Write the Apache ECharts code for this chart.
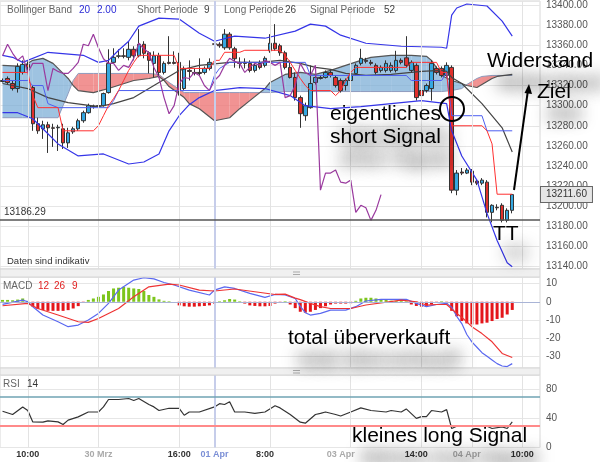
<!DOCTYPE html>
<html>
<head>
<meta charset="utf-8">
<script src="https://cdn.jsdelivr.net/npm/echarts@6/dist/echarts.min.js"></script>
<style>
html,body{margin:0;padding:0;background:#fff;}
#chart{width:600px;height:462px;}
</style>
</head>
<body>
<div id="chart"></div>
<script>
// ================= DATA =================
const slotCount = 107;
const slots = Array.from({length: slotCount}, (_, i) => String(i));

const opens = [13325,13327,13322,13317,13333,13341,13318,13282,13277,13281,
 13278,13278,13277,13263,13274,13277,13285,13293,13299,13300,
 13300,13313,13343,13349,13349.5,13348,13356,13349.5,13361,13352.5,
 13342,13349.5,13333,13343,13343,13343,13317,13335,13333,13333,
 13333,13337,13361.4,13361,13357.5,13371,13356.5,13343,13343,13342,
 13335,13342,13340,13354.5,13362,13359.5,13352.5,13338,13328,13308,
 13290,13298,13323,13328,13328,13333,13328,13325,13320,13325,
 13332,13342,13345,13343,13340,13335,13335,13335,13335,13345,
 13347.5,13335,13340,13315,13315,13317,13337,13337,13330,13338,
 13216,13234,13233,13235,13225,13223,13224,13194,13199,13201,
 13186,13196];
const closes = [13324,13323,13317,13339,13341,13338,13282,13275,13281,13278,
 13277.5,13278.5,13263,13273,13277,13285,13293,13300,13299.5,13299.5,
 13312,13342,13348,13349.5,13349,13356,13349.5,13361,13352,13345,
 13349.5,13333,13342,13342,13342,13315,13337,13334,13332,13332,
 13337,13343,13361,13359.5,13371,13357.5,13346.6,13342,13342,13335,
 13340,13338,13347,13362,13356.5,13352.5,13338,13328,13308,13292,
 13300,13322,13328,13327,13333,13330,13320,13315,13325,13330,
 13340,13347,13344,13342,13333,13338,13342,13340,13345,13343,
 13340,13343,13308,13310,13320,13342,13333,13330,13340,13216,
 13233,13233,13236,13224,13223,13226,13194,13201,13198.5,13186,
 13196,13211.6];
const lows = [13323,13321,13315,13313,13331,13335,13275,13272,13267,13253,
 13259,13255,13257,13258,13272,13275,13283,13292,13297,13297,
 13299,13312,13342,13347,13347,13345,13345,13348,13347,13332,
 13328,13328,13331,13341,13341,13310,13315,13325,13330,13330,
 13331,13335,13359.5,13357.5,13355.5,13355.5,13337.7,13337,13337,13333,
 13333,13336,13338,13352.5,13354.5,13349.5,13336,13327,13305,13278,
 13285,13297,13321,13326,13327,13328,13318,13313,13315,13323,
 13330,13340,13342,13340,13331,13333,13333,13333,13333,13341,
 13338,13333,13305,13305,13313,13305,13331,13328,13328,13213,
 13211,13231,13232,13221,13221,13221,13189,13184,13196,13184,
 13184,13193];
const highs = [13327,13329,13325,13342,13345,13344,13320,13288,13285,13284,
 13282,13281,13282,13278,13279,13287,13295,13302,13301,13303,
 13313,13356,13357,13356,13357,13364,13359,13376,13364,13354,
 13354,13352.5,13344,13369,13354,13352.5,13339,13345,13337,13347,
 13339,13347,13363,13363,13376,13373,13358.5,13348,13347,13345,
 13343,13345,13349,13371,13381,13361.5,13354.5,13345,13333,13310,
 13303,13340,13330,13330,13335,13335,13330,13327,13327,13332,
 13342,13356.5,13347.5,13345.5,13342,13340,13345,13343,13354.5,13347,
 13369,13345,13342,13317,13322,13345,13339,13339,13343,13340,
 13236,13238,13238,13237,13227,13228,13226,13202,13202,13203,
 13198,13212];

// overlay lines: [slot, value]
const upperBand = [[0,13350],[2,13348],[4,13343],[9,13353],[16,13350],[19,13343],[21,13345],[23,13355],[25,13364],[27,13379],[31,13387],[35,13386],[39,13372],[42,13364],[46,13369],[52,13367],[58,13374],[61,13381],[64,13379],[67,13370],[72,13362],[79,13359],[87,13358],[88,13357],[89,13390],[90,13397],[92,13401],[96,13399],[99,13384],[101,13369]];
const lowerBand = [[0,13293],[3,13293],[6,13287],[8,13277],[11,13262],[15,13250],[20,13252],[25,13242],[28,13244],[31,13252],[33,13275],[35,13290],[37,13301],[39,13308],[42,13315],[47,13318],[52,13317],[57,13310],[60,13300],[65,13297],[71,13299],[77,13302],[83,13305],[88,13302],[89,13275],[91,13250],[94,13226],[96,13193],[98,13166],[100,13144],[101,13140]];
const middleBand = [[0,13322],[5,13317],[9,13308],[13,13303],[19,13299],[22,13302],[26,13308],[29,13317],[32,13326],[35,13335],[39,13340],[45,13343],[51,13343],[55,13345],[59,13342],[62,13338],[65,13336],[68,13332],[72,13330],[77,13331],[83,13334],[87,13335],[88,13334],[89,13328],[91,13322],[95,13302],[99,13278],[101,13254]];
const tenkan = [[0,13333],[5,13333],[6,13310],[7,13298],[11,13298],[12,13275],[18,13275],[19,13280],[20,13290],[21,13300],[22,13307],[23,13315],[24,13325],[25,13335],[26,13343],[27,13350],[34,13350],[35,13337],[41,13337],[42,13345],[43,13345],[44,13353],[47,13353],[48,13355],[55,13355],[56,13350],[57,13343],[58,13335],[59,13327],[60,13320],[61,13315],[65,13315],[66,13310],[67,13315],[68,13325],[69,13333],[70,13338],[80,13338],[81,13343],[86,13343],[87,13333],[88,13333],[89,13280],[95,13280],[96,13275],[97,13262],[98,13212],[101,13212]];
const kijun = [[0,13325],[5,13325],[6,13320],[8,13320],[9,13302],[11,13298],[21,13298],[22,13305],[23,13315],[41,13315],[42,13330],[43,13337],[45,13343],[60,13343],[61,13330],[80,13330],[81,13325],[87,13325],[88,13333],[89,13290],[95,13290],[96,13275],[101,13275]];
const cloudK = [0,4,6,8,10,11,12,13,14,15,18,21,26,29,31,32,33,36,37,39,42,45,47,49,52,53,56,59,62,65,71,73,77,81,84,85,87,89,91,92,94,95,97,98,101];
const spanA = [13340,13339,13345,13347,13342,13337,13332,13327,13320,13315,13313,13317,13325,13327,13329,13325,13319,13308,13302,13297,13285,13288,13297,13305,13317,13323,13331,13333,13331,13335,13345,13348,13350,13350,13349,13345,13330,13325,13322,13320,13318,13321,13327,13329,13331];
const spanB = [13288,13288,13288,13288,13288,13288,13300,13312,13325,13332,13332,13332,13332,13332,13331,13327,13323,13313,13313,13313,13313,13313,13313,13313,13313,13313,13314,13314,13314,13314,13314,13314,13314,13314,13314,13314,13314,13315,13317,13321,13327,13329,13330,13330,13330];
const chikouShift = 26;

const macdLine = [[0,-1.4],[4,0.9],[5,0],[6,-2.7],[8,-7.3],[11,-11],[13,-13.7],[15,-12.8],[17,-10],[19,-6.4],[21,-0.9],[23,6.4],[26,11.9],[28,13.2],[30,12.6],[32,10.6],[34,9.2],[37,6.4],[41,3.7],[42,6.4],[44,8.2],[46,7.3],[49,4.6],[52,2.4],[54,4],[56,3.7],[58,1.8],[59,-2.5],[60,-6],[61,-7.3],[63,-6.4],[65,-4.6],[68,-4.6],[70,-2.7],[72,0.4],[75,1.3],[80,1.3],[82,-0.9],[84,-2.7],[86,-1.5],[88,-0.9],[89,-3],[90,-8],[91,-12],[92,-18],[93,-22],[94,-25],[95,-28],[96,-30],[97,-32],[98,-34],[99,-35.3],[100,-35.6],[101,-34]];
const signalLine = [[0,-2.2],[5,-0.9],[7,-3.7],[11,-7.3],[15,-11],[17,-11.3],[19,-9.2],[23,-3.7],[26,2.7],[29,8.2],[33,9.7],[35,9.2],[39,6.4],[42,5.9],[46,7],[50,5.5],[54,4],[56,4.2],[58,2],[59,1.2],[61,-0.9],[63,-2.7],[65,-3.7],[69,-3.7],[72,-1.8],[79,0.9],[82,0],[84,-1.8],[86,-1.5],[88,-1.5],[90,-6.4],[91,-8.5],[93,-13.7],[95,-17.5],[97,-22],[99,-28.4],[101,-30.6]];
const macdHist = [1,1,0.8,1.2,1.8,0.5,-2.7,-4,-4.6,-5,
 -5,-5,-5,-4.6,-3.7,-2.4,-0.5,1,1.8,2.7,
 4,5.9,7.3,7.7,8.2,7.7,7.3,7,5.9,3.7,
 2.7,1.3,0.5,0.3,0,-2,-2.5,-2.7,-2.7,-2.5,
 -2.3,-2,-1,0.3,0.8,1.5,1.2,0.3,-1,-2,
 -2.3,-2.5,-2.5,-2.3,-1,-0.5,0.3,-1.5,-3.5,-5.5,
 -6,-5.5,-4.5,-3.5,-2.5,-1.5,-1,-1,-1,-0.8,
 0.5,1.8,2.2,2.2,1.8,1.3,1,0.6,0.5,0.4,
 0.3,-1.5,-2.3,-2.7,-2.3,-1.5,-0.3,0.3,-1,-5,
 -8,-10.6,-11.9,-12.5,-12.5,-11.9,-11.5,-10.6,-9.5,-8.8,
 -7,-4.5];
const rsiLine = [[0,50],[2,45.5],[4,56],[5,51],[6,35.3],[8,34.9],[9,36.8],[11,35.3],[12,31.7],[13,37.7],[15,42.2],[17,49],[19,49],[20,56],[21,66.2],[23,66.2],[25,67.6],[26,64.9],[27,67.6],[29,59.3],[30,56],[31,51],[33,54.1],[35,54],[36,44.5],[37,49],[39,49],[42,56],[43,60.5],[44,59.3],[45,63],[46,49],[48,49],[50,47],[52,49],[54,57.5],[55,54.6],[57,45.5],[59,34.9],[60,33.5],[62,45.5],[63,47],[64,49],[66,45.5],[67,43.4],[69,49],[71,54.6],[73,51],[76,49],[77,51],[79,49],[80,53.2],[82,40.2],[83,42.6],[84,42.6],[85,51],[87,49],[88,52.2],[89,26.2],[90,29.4],[93,29.4],[96,29.4],[97,26.2],[99,28.5],[100,26.2],[101,35.3]];

const supportLevel = 13186.29;
const lastPrice = 13211.60;
const rsiUpper = 70, rsiLower = 30;

const xLabelIdx = [5, 19, 35, 42, 52, 67, 82, 92, 103];
const xLabelText = ['10:00','30 Mrz','16:00','01 Apr','8:00','03 Apr','14:00','04 Apr','10:00'];
const xLabelColor = ['#333','#aaa','#333','#7b8fd6','#333','#aaa','#333','#aaa','#333'];
const vGridIdx = [5, 19, 35, 53, 69, 83, 93, 103];
const dayLineIdx = 42;

// ================= CHART =================
const FONT = '"Liberation Sans", Arial, sans-serif';
const CLOUD_UP = 'rgba(120,172,214,0.72)';
const CLOUD_DOWN = 'rgba(238,120,120,0.80)';

const candleData = opens.map((o, i) => [o, closes[i], lows[i], highs[i]]);
const chikou = closes.slice(chikouShift).map((c, i) => [i, c]);
const cloudSegs = cloudK.slice(0, -1).map((k, i) => [k, spanA[i], spanB[i], cloudK[i + 1], spanA[i + 1], spanB[i + 1]]);

function vLines() {
  return vGridIdx.map(i => ({xAxis: i, lineStyle: {color: '#e3e3e3', width: 1, type: 'solid'}}))
    .concat([{xAxis: dayLineIdx, lineStyle: {color: '#c6cdea', width: 2, type: 'solid'}}]);
}

function cloudItem(params, api) {
  const k0 = api.value(0), a0 = api.value(1), b0 = api.value(2);
  const k1 = api.value(3), a1 = api.value(4), b1 = api.value(5);
  const A0 = api.coord([k0, a0]), B0 = api.coord([k0, b0]);
  const A1 = api.coord([k1, a1]), B1 = api.coord([k1, b1]);
  const d0 = a0 - b0, d1 = a1 - b1;
  const col = d => d >= 0 ? CLOUD_UP : CLOUD_DOWN;
  if (d0 * d1 >= 0) {
    return {type: 'polygon', shape: {points: [A0, A1, B1, B0]}, style: {fill: col(d0 + d1)}};
  }
  const t = d0 / (d0 - d1);
  const P = [A0[0] + t * (A1[0] - A0[0]), A0[1] + t * (A1[1] - A0[1])];
  return {type: 'group', children: [
    {type: 'polygon', shape: {points: [A0, P, B0]}, style: {fill: col(d0)}},
    {type: 'polygon', shape: {points: [P, A1, B1]}, style: {fill: col(d1)}}
  ]};
}

function lineSeries(data, color, width, xi, z) {
  return {type: 'line', xAxisIndex: xi, yAxisIndex: xi, data: data, showSymbol: false, silent: true,
    lineStyle: {color: color, width: width}, z: z || 4, animation: false};
}

function xAxisCfg(gi, showLabel) {
  return {
    type: 'category', gridIndex: gi, data: slots, boundaryGap: true,
    axisLine: {show: false}, axisTick: {show: false}, splitLine: {show: false},
    axisLabel: showLabel ? {
      show: true,
      interval: (idx) => xLabelIdx.includes(idx),
      formatter: (v) => { const j = xLabelIdx.indexOf(Number(v)); return j >= 0 ? xLabelText[j] : ''; },
      color: (v) => { const j = xLabelIdx.indexOf(Number(v)); return j >= 0 ? xLabelColor[j] : '#333'; },
      fontSize: 9, fontWeight: 'bold', fontFamily: FONT, margin: 3
    } : {show: false}
  };
}

const yLabelBase = {color: '#555', fontSize: 10, fontFamily: FONT, margin: 6};

function txt(x, y, text, fill, size) {
  return {type: 'text', silent: true, z: 50,
    style: {x: x, y: y, text: text, fill: fill, font: (size || 10) + 'px ' + FONT, textVerticalAlign: 'middle'}};
}
function note(x, y, text) {
  return {type: 'text', silent: true, z: 60,
    style: {x: x, y: y, text: text, fill: '#000', font: '21px ' + FONT, textVerticalAlign: 'top',
      textShadowColor: 'rgba(0,0,0,0.85)', textShadowBlur: 16, textShadowOffsetX: 10, textShadowOffsetY: 22}};
}

const graphics = [
  // separators
  {type: 'rect', silent: true, z: 40, shape: {x: 0, y: 269, width: 540, height: 8}, style: {fill: '#f0f0f0', stroke: '#d6d6d6', lineWidth: 1}},
  {type: 'rect', silent: true, z: 40, shape: {x: 0, y: 368, width: 540, height: 7}, style: {fill: '#f0f0f0', stroke: '#d6d6d6', lineWidth: 1}},
  {type: 'line', silent: true, z: 41, shape: {x1: 293, y1: 272, x2: 300, y2: 272}, style: {stroke: '#aaa', lineWidth: 1}},
  {type: 'line', silent: true, z: 41, shape: {x1: 293, y1: 274.5, x2: 300, y2: 274.5}, style: {stroke: '#aaa', lineWidth: 1}},
  {type: 'line', silent: true, z: 41, shape: {x1: 293, y1: 370.5, x2: 300, y2: 370.5}, style: {stroke: '#aaa', lineWidth: 1}},
  {type: 'line', silent: true, z: 41, shape: {x1: 293, y1: 373, x2: 300, y2: 373}, style: {stroke: '#aaa', lineWidth: 1}},
  // headers
  txt(7, 10, 'Bollinger Band', '#666'),
  txt(79, 10, '20', '#2b2bd6'),
  txt(97, 10, '2.00', '#2b2bd6'),
  txt(137, 10, 'Short Periode', '#666'),
  txt(204, 10, '9', '#444'),
  txt(224, 10, 'Long Periode', '#666'),
  txt(285, 10, '26', '#444'),
  txt(310, 10, 'Signal Periode', '#666'),
  txt(384, 10, '52', '#444'),
  txt(7, 261, 'Daten sind indikativ', '#333', 9.5),
  txt(3, 286, 'MACD', '#666'),
  txt(38, 286, '12', '#e02020'),
  txt(54, 286, '26', '#e02020'),
  txt(72, 286, '9', '#e02020'),
  txt(3, 384, 'RSI', '#666'),
  txt(27, 384, '14', '#333'),
  // annotations
  note(487, 51, 'Widerstand'),
  note(537, 82, 'Ziel'),
  note(330, 104, 'eigentliches'),
  note(330, 127, 'short Signal'),
  note(493, 224, 'TT'),
  note(288, 328, 'total überverkauft'),
  note(352, 426, 'kleines long Signal'),
  {type: 'circle', silent: true, z: 60, shape: {cx: 452, cy: 109, r: 12}, style: {fill: 'none', stroke: '#000', lineWidth: 2}},
  {type: 'line', silent: true, z: 60, shape: {x1: 514, y1: 190, x2: 528, y2: 90}, style: {stroke: '#000', lineWidth: 2}},
  {type: 'polygon', silent: true, z: 60, shape: {points: [[529, 84], [524.5, 93], [532, 94]]}, style: {fill: '#000'}}
];

const option = {
  animation: false,
  backgroundColor: '#fff',
  textStyle: {fontFamily: FONT},
  grid: [
    {left: 0, top: 0, width: 540, height: 269, show: true, borderColor: '#d8d8d8', borderWidth: 1},
    {left: 0, top: 277, width: 540, height: 91, show: true, borderColor: '#d8d8d8', borderWidth: 1},
    {left: 0, top: 375, width: 540, height: 72.5, show: true, borderColor: '#d8d8d8', borderWidth: 1}
  ],
  xAxis: [xAxisCfg(0, false), xAxisCfg(1, false), xAxisCfg(2, true)],
  yAxis: [
    {type: 'value', gridIndex: 0, position: 'right', min: 13137.7, max: 13404, minInterval: 20, maxInterval: 20,
      axisLine: {show: false}, axisTick: {show: false},
      axisLabel: Object.assign({formatter: v => (Math.abs(v % 20) < 1e-6 ? v.toFixed(2) : '')}, yLabelBase),
      splitLine: {lineStyle: {color: '#e6e6e6'}}},
    {type: 'value', gridIndex: 1, position: 'right', min: -36.4, max: 13.6, minInterval: 10, maxInterval: 10,
      axisLine: {show: false}, axisTick: {show: false},
      axisLabel: Object.assign({formatter: v => (Math.abs(v % 10) < 1e-6 ? String(v) : '')}, yLabelBase),
      splitLine: {lineStyle: {color: '#e6e6e6'}}},
    {type: 'value', gridIndex: 2, position: 'right', min: 0, max: 100, interval: 40,
      axisLine: {show: false}, axisTick: {show: false},
      axisLabel: Object.assign({formatter: v => (v % 40 === 0 ? String(v) : '')}, yLabelBase),
      splitLine: {lineStyle: {color: '#e6e6e6'}}}
  ],
  series: [
    {type: 'custom', xAxisIndex: 0, yAxisIndex: 0, renderItem: cloudItem, data: cloudSegs,
      encode: {x: [0, 3], y: [1, 2, 4, 5]}, z: 1, silent: true, animation: false,
      markLine: {silent: true, symbol: ['none', 'none'], label: {show: false}, animation: false, data: vLines()}},
    lineSeries(cloudK.map((k, i) => [k, spanB[i]]), '#8f9bbd', 1, 0, 2),
    lineSeries(cloudK.map((k, i) => [k, spanA[i]]), '#555', 1.2, 0, 2),
    {type: 'candlestick', xAxisIndex: 0, yAxisIndex: 0, data: candleData, barWidth: 4, z: 3, silent: true,
      itemStyle: {color: '#35a7e0', color0: '#e0302c', borderColor: '#333', borderColor0: '#333', borderWidth: 1},
      markLine: {silent: true, symbol: ['none', 'none'], animation: false, data: [
        {yAxis: supportLevel, lineStyle: {color: '#555', width: 1.5, type: 'solid'},
          label: {show: true, position: 'insideStartTop', formatter: supportLevel.toFixed(2), color: '#333', fontSize: 10, fontFamily: FONT, distance: [4, 3]}},
        {yAxis: lastPrice, lineStyle: {color: 'rgba(0,0,0,0)', width: 0},
          label: {show: true, position: 'end', formatter: lastPrice.toFixed(2), color: '#333', fontSize: 10, fontFamily: FONT,
            backgroundColor: '#e6e6e6', borderColor: '#666', borderWidth: 1, padding: [3, 5, 2, 5], distance: 1}}
      ]}},
    lineSeries(upperBand, '#3535e8', 1.2, 0, 4),
    lineSeries(lowerBand, '#3535e8', 1.2, 0, 4),
    lineSeries(middleBand, '#444', 1.2, 0, 4),
    lineSeries(kijun, '#4d5ff0', 1, 0, 4),
    lineSeries(tenkan, '#ff3030', 1, 0, 4),
    lineSeries(chikou, '#9a3a9e', 1.2, 0, 4),
    // MACD
    {type: 'bar', xAxisIndex: 1, yAxisIndex: 1, barWidth: 3, silent: true, z: 2,
      data: macdHist.map(v => ({value: v, itemStyle: {color: v >= 0 ? '#7cc51c' : '#e4161b'}})),
      markLine: {silent: true, symbol: ['none', 'none'], label: {show: false}, animation: false,
        data: vLines().concat([{yAxis: 0, lineStyle: {color: '#a9b4d6', width: 1, type: 'solid'}}])}},
    lineSeries(macdLine, '#5a68f0', 1.2, 1, 4),
    lineSeries(signalLine, '#ee3333', 1.2, 1, 4),
    // RSI
    Object.assign(lineSeries(rsiLine, '#333', 1.2, 2, 4), {
      markLine: {silent: true, symbol: ['none', 'none'], label: {show: false}, animation: false,
        data: vLines().concat([
          {yAxis: rsiUpper, lineStyle: {color: '#6fa3b3', width: 1.5, type: 'solid'}},
          {yAxis: rsiLower, lineStyle: {color: '#ff8a8a', width: 2, type: 'solid'}}
        ])}})
  ],
  graphic: graphics
};

const chart = echarts.init(document.getElementById('chart'), null, {renderer: 'canvas'});
chart.setOption(option);
</script>
</body>
</html>
